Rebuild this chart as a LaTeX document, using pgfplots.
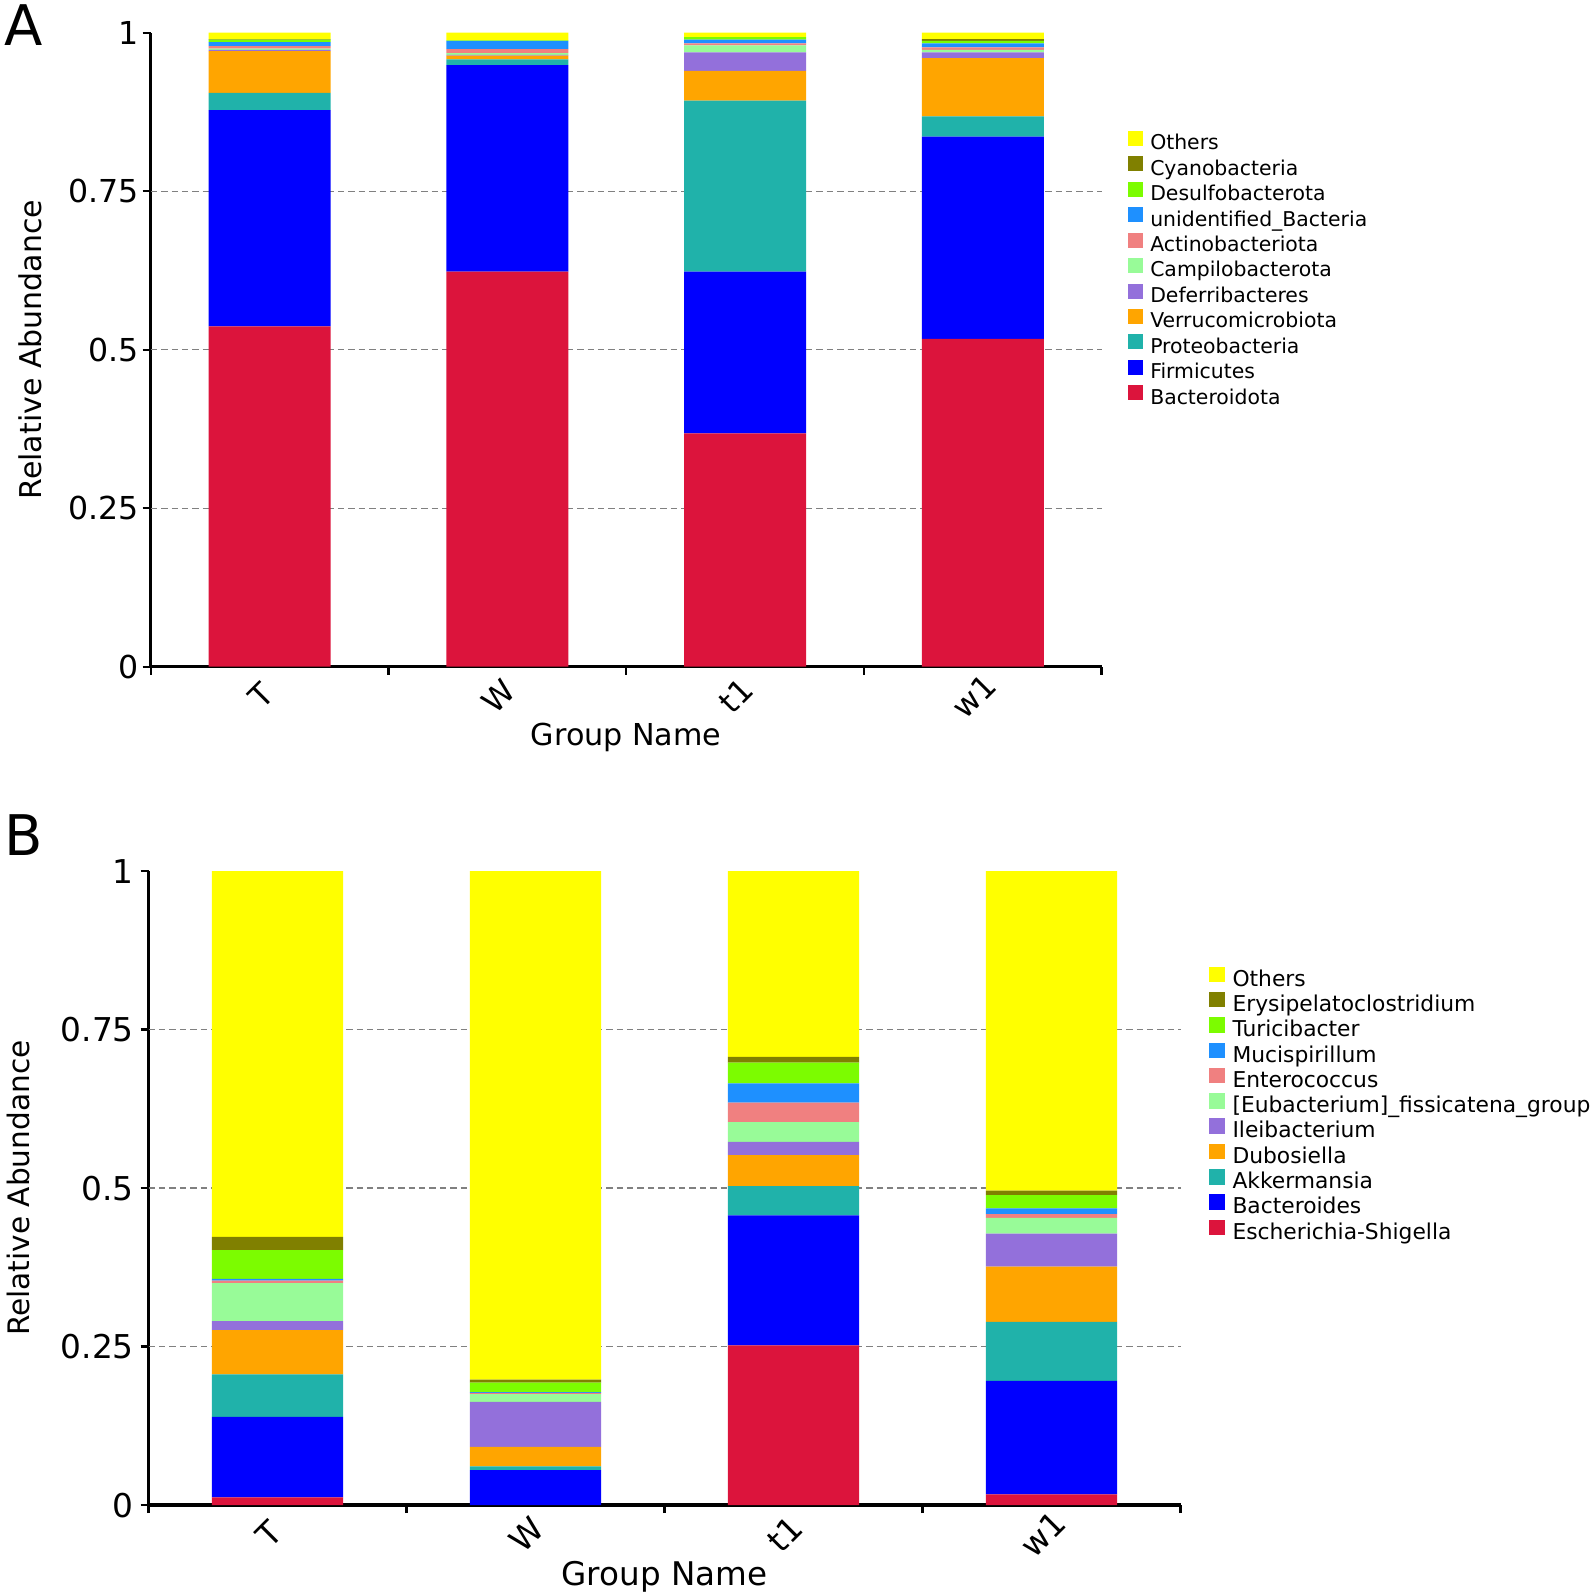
\documentclass[border=0pt]{standalone}
\usepackage{fontspec}
\setmainfont{DejaVu Sans}
\usepackage{pgfplots}
\pgfplotsset{compat=1.18}
\usepackage{pgfplotstable}

\definecolor{cOthe}{HTML}{FFFF00}
\definecolor{cOliv}{HTML}{808000}
\definecolor{cLawn}{HTML}{7CFC00}
\definecolor{cDodg}{HTML}{1E90FF}
\definecolor{cCora}{HTML}{F08080}
\definecolor{cPale}{HTML}{98FB98}
\definecolor{cPurp}{HTML}{9370DB}
\definecolor{cOran}{HTML}{FFA500}
\definecolor{cSeag}{HTML}{20B2AA}
\definecolor{cBlue}{HTML}{0000FF}
\definecolor{cCrim}{HTML}{DC143C}

% phylum level
\pgfplotstableread{
x Bact Firm Prot Verr Defe Camp Acti Unid Desu Cyan Othe
0 0.537 0.341 0.027 0.066 0.002 0.002 0.004 0.006 0.004 0.001 0.010
1 0.623 0.326 0.009 0.006 0.001 0.003 0.006 0.013 0.001 0.000 0.012
2 0.368 0.255 0.270 0.047 0.029 0.011 0.003 0.006 0.004 0.000 0.007
3 0.517 0.319 0.032 0.092 0.009 0.004 0.004 0.006 0.004 0.003 0.010
}\phylum

% genus level
\pgfplotstableread{
x Esch Bcds Akke Dubo Ilei Euba Ente Muci Turi Erys Othe
0 0.012 0.127 0.067 0.070 0.014 0.060 0.004 0.003 0.045 0.021 0.577
1 0.000 0.055 0.006 0.031 0.071 0.012 0.002 0.001 0.015 0.005 0.802
2 0.252 0.205 0.046 0.049 0.021 0.031 0.031 0.030 0.033 0.009 0.293
3 0.017 0.179 0.093 0.087 0.052 0.025 0.006 0.009 0.021 0.007 0.504
}\genus

\pgfplotsset{
  abund/.style={
    scale only axis, ybar stacked, enlargelimits=false,
    ymin=0, ymax=1, xmin=-0.5, xmax=3.5,
    axis x line*=bottom, axis y line*=left,
    axis line style={line width=0.8pt},
    tick style={black, line width=0.6pt},
    tick align=outside, major tick length=2pt,
    ytick={0,0.25,0.5,0.75,1}, yticklabels={0,0.25,0.5,0.75,1},
    xtick={-0.5,0.5,1.5,2.5,3.5}, xticklabels={},
    extra x ticks={0,1,2,3}, extra x tick labels={T,W,t1,w1},
    extra x tick style={major tick length=0pt},
    xticklabel style={yshift=-7.3pt, xshift=-2.2pt, rotate=45, anchor=center},
    extra y ticks={0.25,0.5,0.75}, extra y tick labels={},
    extra y tick style={ymajorgrids=true, major tick length=0pt},
    major grid style={gray, dash pattern=on 1.6pt off 1pt, line width=0.35pt},
    every axis plot/.append style={draw=none},
    xlabel={Group Name}, ylabel={Relative Abundance},
    reverse legend, legend cell align=left,
    legend style={draw=none, fill=none, inner sep=0pt, anchor=north west,
      nodes={inner sep=0pt, text height=3.85pt, text depth=1.71pt}},
  }
}

\begin{document}
\begin{tikzpicture}
\useasboundingbox (-37.68pt,-232.33pt) rectangle (360.58pt,166.68pt);

\begin{axis}[abund,
  width=237.75pt, height=158.5pt, bar width=0.513,
  tick label style={font=\fontsize{7.9}{9}\selectfont},
  yticklabel style={inner xsep=0.8pt},
  every axis x label/.style={at={(rel axis cs:0.5,-0.1123)}, anchor=center, font=\fontsize{7.55}{9}\selectfont},
  every axis y label/.style={at={(rel axis cs:-0.1264,0.5)}, rotate=90, anchor=center, font=\fontsize{7.5}{9}\selectfont},
  legend image code/.code={\fill[#1] (0pt,-0.1pt) rectangle (3.75pt,3.65pt);},
  legend style={at={(rel axis cs:1.0269,0.8464)}, font=\fontsize{5.1}{6}\selectfont,
    column sep=1.8pt, row sep=-0.07pt},
  legend entries={Bacteroidota,Firmicutes,Proteobacteria,Verrucomicrobiota,Deferribacteres,Campilobacterota,Actinobacteriota,unidentified\_Bacteria,Desulfobacterota,Cyanobacteria,Others},
]
\addplot[fill=cCrim] table[x=x,y=Bact]{\phylum};
\addplot[fill=cBlue] table[x=x,y=Firm]{\phylum};
\addplot[fill=cSeag] table[x=x,y=Prot]{\phylum};
\addplot[fill=cOran] table[x=x,y=Verr]{\phylum};
\addplot[fill=cPurp] table[x=x,y=Defe]{\phylum};
\addplot[fill=cPale] table[x=x,y=Camp]{\phylum};
\addplot[fill=cCora] table[x=x,y=Acti]{\phylum};
\addplot[fill=cDodg] table[x=x,y=Unid]{\phylum};
\addplot[fill=cLawn] table[x=x,y=Desu]{\phylum};
\addplot[fill=cOliv] table[x=x,y=Cyan]{\phylum};
\addplot[fill=cOthe] table[x=x,y=Othe]{\phylum};
\end{axis}

\begin{axis}[abund, at={(-0.53pt,-209.6pt)}, anchor=south west,
  width=258pt, height=158.5pt, bar width=0.509,
  tick label style={font=\fontsize{8.2}{9}\selectfont},
  yticklabel style={inner xsep=1.5pt},
  every axis x label/.style={at={(rel axis cs:0.5,-0.1133)}, anchor=center, font=\fontsize{8.15}{9}\selectfont},
  every axis y label/.style={at={(rel axis cs:-0.1264,0.5)}, rotate=90, anchor=center, font=\fontsize{7.4}{9}\selectfont},
  legend image code/.code={\fill[#1] (0pt,-0.1pt) rectangle (4.0pt,3.8pt);},
  legend style={at={(rel axis cs:1.0267,0.8507)}, font=\fontsize{5.45}{6}\selectfont,
    column sep=1.9pt, row sep=-0.25pt},
  legend entries={Escherichia-Shigella,Bacteroides,Akkermansia,Dubosiella,Ileibacterium,{}[Eubacterium]\_fissicatena\_group,Enterococcus,Mucispirillum,Turicibacter,Erysipelatoclostridium,Others},
]
\addplot[fill=cCrim] table[x=x,y=Esch]{\genus};
\addplot[fill=cBlue] table[x=x,y=Bcds]{\genus};
\addplot[fill=cSeag] table[x=x,y=Akke]{\genus};
\addplot[fill=cOran] table[x=x,y=Dubo]{\genus};
\addplot[fill=cPurp] table[x=x,y=Ilei]{\genus};
\addplot[fill=cPale] table[x=x,y=Euba]{\genus};
\addplot[fill=cCora] table[x=x,y=Ente]{\genus};
\addplot[fill=cDodg] table[x=x,y=Muci]{\genus};
\addplot[fill=cLawn] table[x=x,y=Turi]{\genus};
\addplot[fill=cOliv] table[x=x,y=Erys]{\genus};
\addplot[fill=cOthe] table[x=x,y=Othe]{\genus};
\end{axis}

\node[font=\fontsize{14}{16}\selectfont] at (-31.8pt,160.3pt) {A};
\node[font=\fontsize{14}{16}\selectfont] at (-31.8pt,-42pt) {B};
\end{tikzpicture}
\end{document}
